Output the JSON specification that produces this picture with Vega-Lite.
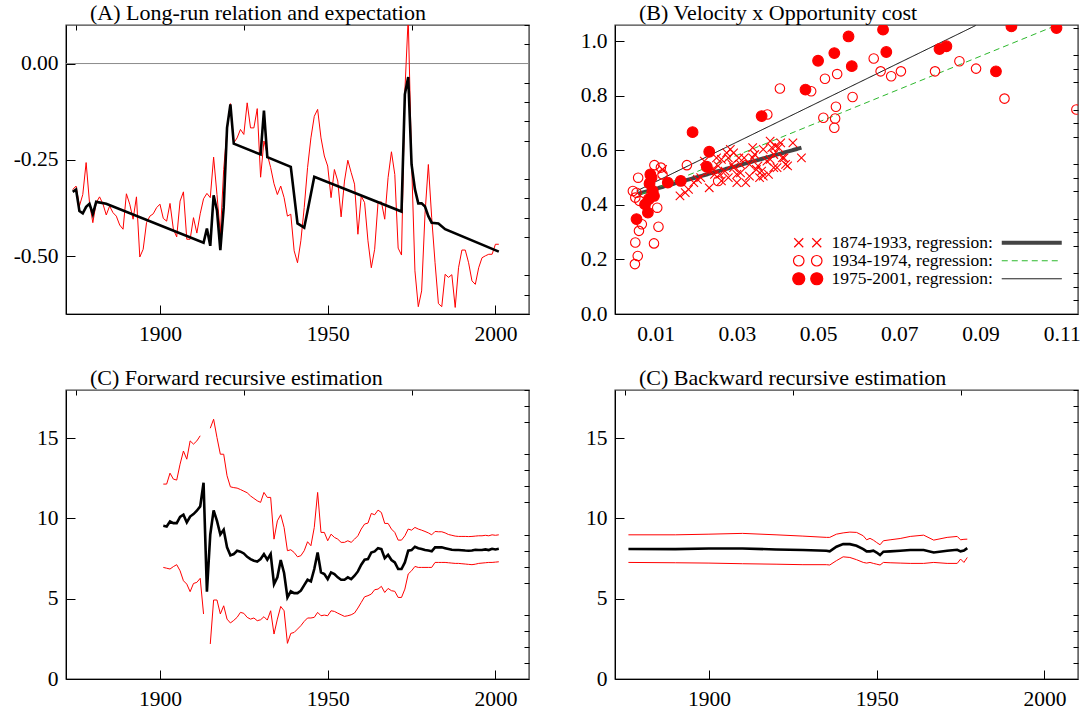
{
"$schema": "https://vega.github.io/schema/vega-lite/v6.json",
"background": "white",
"padding": {"left": 12, "top": 0, "right": 0, "bottom": 0},
"config": {
  "view": {"stroke": "#444444", "strokeWidth": 1.4},
  "axis": {"labelFont": "Liberation Serif", "labelFontSize": 21.5, "labelColor": "#000", "domainColor": "#000", "domainWidth": 1, "tickColor": "#000", "tickWidth": 1, "grid": false, "labelFlush": false, "labelOverlap": false, "labelBound": false},
  "legend": {"labelFont": "Liberation Serif", "labelColor": "#000", "labelLimit": 0},
  "title": {"font": "Liberation Serif", "fontSize": 22, "fontWeight": "normal", "color": "#000"}
},
"datasets": {
  "A_red": [
    {"year":1874,"v":-0.327},{"year":1875,"v":-0.318},{"year":1876,"v":-0.37},{"year":1877,"v":-0.34},{"year":1878,"v":-0.257},{"year":1879,"v":-0.361},{"year":1880,"v":-0.413},{"year":1881,"v":-0.361},{"year":1882,"v":-0.346},{"year":1883,"v":-0.364},{"year":1884,"v":-0.393},{"year":1885,"v":-0.37},{"year":1886,"v":-0.387},{"year":1887,"v":-0.396},{"year":1888,"v":-0.419},{"year":1889,"v":-0.43},{"year":1890,"v":-0.338},{"year":1891,"v":-0.365},{"year":1892,"v":-0.404},{"year":1893,"v":-0.346},{"year":1894,"v":-0.502},{"year":1895,"v":-0.482},{"year":1896,"v":-0.413},{"year":1897,"v":-0.396},{"year":1898,"v":-0.39},{"year":1899,"v":-0.374},{"year":1900,"v":-0.365},{"year":1901,"v":-0.402},{"year":1902,"v":-0.409},{"year":1903,"v":-0.363},{"year":1904,"v":-0.43},{"year":1905,"v":-0.45},{"year":1906,"v":-0.357},{"year":1907,"v":-0.333},{"year":1908,"v":-0.456},{"year":1909,"v":-0.456},{"year":1910,"v":-0.4},{"year":1911,"v":-0.44},{"year":1912,"v":-0.39},{"year":1913,"v":-0.351},{"year":1914,"v":-0.337},{"year":1915,"v":-0.348},{"year":1916,"v":-0.243},{"year":1917,"v":-0.34},{"year":1918,"v":-0.443},{"year":1919,"v":-0.275},{"year":1920,"v":-0.171},{"year":1921,"v":-0.104},{"year":1922,"v":-0.206},{"year":1923,"v":-0.193},{"year":1924,"v":-0.171},{"year":1925,"v":-0.184},{"year":1926,"v":-0.102},{"year":1927,"v":-0.167},{"year":1928,"v":-0.167},{"year":1929,"v":-0.117},{"year":1930,"v":-0.295},{"year":1931,"v":-0.201},{"year":1932,"v":-0.236},{"year":1933,"v":-0.27},{"year":1934,"v":-0.312},{"year":1935,"v":-0.34},{"year":1936,"v":-0.318},{"year":1937,"v":-0.348},{"year":1938,"v":-0.396},{"year":1939,"v":-0.391},{"year":1940,"v":-0.486},{"year":1941,"v":-0.517},{"year":1942,"v":-0.46},{"year":1943,"v":-0.374},{"year":1944,"v":-0.27},{"year":1945,"v":-0.193},{"year":1946,"v":-0.137},{"year":1947,"v":-0.119},{"year":1948,"v":-0.193},{"year":1949,"v":-0.24},{"year":1950,"v":-0.266},{"year":1951,"v":-0.348},{"year":1952,"v":-0.275},{"year":1953,"v":-0.305},{"year":1954,"v":-0.398},{"year":1955,"v":-0.305},{"year":1956,"v":-0.251},{"year":1957,"v":-0.283},{"year":1958,"v":-0.313},{"year":1959,"v":-0.443},{"year":1960,"v":-0.344},{"year":1961,"v":-0.361},{"year":1962,"v":-0.46},{"year":1963,"v":-0.53},{"year":1964,"v":-0.482},{"year":1965,"v":-0.361},{"year":1966,"v":-0.359},{"year":1967,"v":-0.404},{"year":1968,"v":-0.296},{"year":1969,"v":-0.229},{"year":1970,"v":-0.288},{"year":1971,"v":-0.479},{"year":1972,"v":-0.497},{"year":1973,"v":-0.072},{"year":1974,"v":0.12},{"year":1975,"v":-0.253},{"year":1976,"v":-0.538},{"year":1977,"v":-0.631},{"year":1978,"v":-0.59},{"year":1979,"v":-0.391},{"year":1980,"v":-0.262},{"year":1981,"v":-0.4},{"year":1982,"v":-0.517},{"year":1983,"v":-0.623},{"year":1984,"v":-0.631},{"year":1985,"v":-0.547},{"year":1986,"v":-0.555},{"year":1987,"v":-0.548},{"year":1988,"v":-0.633},{"year":1989,"v":-0.53},{"year":1990,"v":-0.484},{"year":1991,"v":-0.484},{"year":1992,"v":-0.517},{"year":1993,"v":-0.564},{"year":1994,"v":-0.573},{"year":1995,"v":-0.53},{"year":1996,"v":-0.504},{"year":1997,"v":-0.499},{"year":1998,"v":-0.495},{"year":1999,"v":-0.495},{"year":2000,"v":-0.469},{"year":2001,"v":-0.469}
  ],
  "A_black": [
    {"year":1874,"v":-0.333},{"year":1875,"v":-0.327},{"year":1876,"v":-0.383},{"year":1877,"v":-0.389},{"year":1878,"v":-0.372},{"year":1879,"v":-0.364},{"year":1880,"v":-0.391},{"year":1881,"v":-0.359},{"year":1884,"v":-0.364},{"year":1913,"v":-0.465},{"year":1914,"v":-0.428},{"year":1915,"v":-0.473},{"year":1916,"v":-0.342},{"year":1917,"v":-0.381},{"year":1918,"v":-0.484},{"year":1919,"v":-0.374},{"year":1920,"v":-0.167},{"year":1921,"v":-0.106},{"year":1922,"v":-0.208},{"year":1930,"v":-0.236},{"year":1931,"v":-0.122},{"year":1932,"v":-0.243},{"year":1939,"v":-0.268},{"year":1941,"v":-0.415},{"year":1943,"v":-0.426},{"year":1944,"v":-0.383},{"year":1946,"v":-0.294},{"year":1972,"v":-0.384},{"year":1973,"v":-0.08},{"year":1974,"v":-0.035},{"year":1975,"v":-0.262},{"year":1976,"v":-0.326},{"year":1977,"v":-0.363},{"year":1978,"v":-0.363},{"year":1979,"v":-0.371},{"year":1980,"v":-0.396},{"year":1981,"v":-0.413},{"year":1983,"v":-0.415},{"year":1985,"v":-0.43},{"year":2001,"v":-0.488}
  ],
  "B_pts": [
    {"period":"1874-1933","oc":0.016,"vel":0.433},{"period":"1874-1933","oc":0.0181,"vel":0.457},{"period":"1874-1933","oc":0.0203,"vel":0.494},{"period":"1874-1933","oc":0.0232,"vel":0.463},{"period":"1874-1933","oc":0.022,"vel":0.561},{"period":"1874-1933","oc":0.0245,"vel":0.512},{"period":"1874-1933","oc":0.0254,"vel":0.543},{"period":"1874-1933","oc":0.0262,"vel":0.567},{"period":"1874-1933","oc":0.0271,"vel":0.524},{"period":"1874-1933","oc":0.0279,"vel":0.5},{"period":"1874-1933","oc":0.0288,"vel":0.549},{"period":"1874-1933","oc":0.0292,"vel":0.591},{"period":"1874-1933","oc":0.03,"vel":0.512},{"period":"1874-1933","oc":0.03,"vel":0.482},{"period":"1874-1933","oc":0.0305,"vel":0.573},{"period":"1874-1933","oc":0.0292,"vel":0.537},{"period":"1874-1933","oc":0.0284,"vel":0.604},{"period":"1874-1933","oc":0.0331,"vel":0.549},{"period":"1874-1933","oc":0.0339,"vel":0.61},{"period":"1874-1933","oc":0.0344,"vel":0.585},{"period":"1874-1933","oc":0.0352,"vel":0.543},{"period":"1874-1933","oc":0.0361,"vel":0.524},{"period":"1874-1933","oc":0.0365,"vel":0.506},{"period":"1874-1933","oc":0.0378,"vel":0.512},{"period":"1874-1933","oc":0.0374,"vel":0.561},{"period":"1874-1933","oc":0.0382,"vel":0.634},{"period":"1874-1933","oc":0.0386,"vel":0.61},{"period":"1874-1933","oc":0.0391,"vel":0.585},{"period":"1874-1933","oc":0.0399,"vel":0.537},{"period":"1874-1933","oc":0.0403,"vel":0.61},{"period":"1874-1933","oc":0.0408,"vel":0.628},{"period":"1874-1933","oc":0.0416,"vel":0.573},{"period":"1874-1933","oc":0.042,"vel":0.549},{"period":"1874-1933","oc":0.0425,"vel":0.543},{"period":"1874-1933","oc":0.0438,"vel":0.628},{"period":"1874-1933","oc":0.0459,"vel":0.573},{"period":"1874-1933","oc":0.0365,"vel":0.604},{"period":"1874-1933","oc":0.0322,"vel":0.482},{"period":"1874-1933","oc":0.0262,"vel":0.488},{"period":"1874-1933","oc":0.0241,"vel":0.53},{"period":"1874-1933","oc":0.025,"vel":0.573},{"period":"1874-1933","oc":0.0275,"vel":0.591},{"period":"1874-1933","oc":0.0309,"vel":0.518},{"period":"1874-1933","oc":0.0331,"vel":0.506},{"period":"1874-1933","oc":0.0348,"vel":0.53},{"period":"1874-1933","oc":0.0356,"vel":0.5},{"period":"1874-1933","oc":0.0382,"vel":0.567},{"period":"1874-1933","oc":0.0395,"vel":0.616},{"period":"1874-1933","oc":0.0412,"vel":0.573},{"period":"1874-1933","oc":0.0391,"vel":0.537},{"period":"1874-1933","oc":0.0279,"vel":0.573},{"period":"1874-1933","oc":0.0258,"vel":0.512},{"period":"1874-1933","oc":0.0232,"vel":0.524},{"period":"1874-1933","oc":0.0211,"vel":0.5},{"period":"1874-1933","oc":0.0339,"vel":0.573},{"period":"1874-1933","oc":0.0318,"vel":0.573},{"period":"1874-1933","oc":0.0117,"vel":0.53},{"period":"1874-1933","oc":0.0173,"vel":0.445},{"period":"1874-1933","oc":0.0194,"vel":0.482},{"period":"1874-1933","oc":0.0309,"vel":0.549},
    {"period":"1934-1974","oc":0.1136,"vel":0.75},{"period":"1934-1974","oc":0.0959,"vel":0.79},{"period":"1934-1974","oc":0.0889,"vel":0.9},{"period":"1934-1974","oc":0.0848,"vel":0.927},{"period":"1934-1974","oc":0.0788,"vel":0.89},{"period":"1934-1974","oc":0.0637,"vel":0.937},{"period":"1934-1974","oc":0.0654,"vel":0.89},{"period":"1934-1974","oc":0.068,"vel":0.872},{"period":"1934-1974","oc":0.0704,"vel":0.89},{"period":"1934-1974","oc":0.0585,"vel":0.796},{"period":"1934-1974","oc":0.0547,"vel":0.88},{"period":"1934-1974","oc":0.0517,"vel":0.863},{"period":"1934-1974","oc":0.0544,"vel":0.76},{"period":"1934-1974","oc":0.0513,"vel":0.72},{"period":"1934-1974","oc":0.0542,"vel":0.717},{"period":"1934-1974","oc":0.054,"vel":0.683},{"period":"1934-1974","oc":0.0483,"vel":0.817},{"period":"1934-1974","oc":0.0406,"vel":0.827},{"period":"1934-1974","oc":0.0375,"vel":0.732},{"period":"1934-1974","oc":0.0177,"vel":0.546},{"period":"1934-1974","oc":0.0097,"vel":0.546},{"period":"1934-1974","oc":0.0113,"vel":0.537},{"period":"1934-1974","oc":0.0057,"vel":0.5},{"period":"1934-1974","oc":0.0044,"vel":0.451},{"period":"1934-1974","oc":0.005,"vel":0.427},{"period":"1934-1974","oc":0.0066,"vel":0.329},{"period":"1934-1974","oc":0.0059,"vel":0.305},{"period":"1934-1974","oc":0.005,"vel":0.262},{"period":"1934-1974","oc":0.0056,"vel":0.213},{"period":"1934-1974","oc":0.0049,"vel":0.183},{"period":"1934-1974","oc":0.0096,"vel":0.259},{"period":"1934-1974","oc":0.0107,"vel":0.32},{"period":"1934-1974","oc":0.0104,"vel":0.39},{"period":"1934-1974","oc":0.0254,"vel":0.488},{"period":"1934-1974","oc":0.009,"vel":0.445},{"period":"1934-1974","oc":0.0053,"vel":0.445},{"period":"1934-1974","oc":0.0085,"vel":0.482},{"period":"1934-1974","oc":0.0117,"vel":0.512},{"period":"1934-1974","oc":0.006,"vel":0.415},
    {"period":"1975-2001","oc":0.066,"vel":1.043},{"period":"1975-2001","oc":0.0976,"vel":1.055},{"period":"1975-2001","oc":0.1087,"vel":1.049},{"period":"1975-2001","oc":0.0575,"vel":1.018},{"period":"1975-2001","oc":0.054,"vel":0.957},{"period":"1975-2001","oc":0.05,"vel":0.929},{"period":"1975-2001","oc":0.0583,"vel":0.909},{"period":"1975-2001","oc":0.0668,"vel":0.961},{"period":"1975-2001","oc":0.0799,"vel":0.972},{"period":"1975-2001","oc":0.0816,"vel":0.982},{"period":"1975-2001","oc":0.0938,"vel":0.89},{"period":"1975-2001","oc":0.0469,"vel":0.823},{"period":"1975-2001","oc":0.0361,"vel":0.726},{"period":"1975-2001","oc":0.0191,"vel":0.667},{"period":"1975-2001","oc":0.0232,"vel":0.595},{"period":"1975-2001","oc":0.0226,"vel":0.54},{"period":"1975-2001","oc":0.0162,"vel":0.488},{"period":"1975-2001","oc":0.013,"vel":0.482},{"period":"1975-2001","oc":0.009,"vel":0.5},{"period":"1975-2001","oc":0.0085,"vel":0.478},{"period":"1975-2001","oc":0.0096,"vel":0.433},{"period":"1975-2001","oc":0.0083,"vel":0.421},{"period":"1975-2001","oc":0.0074,"vel":0.402},{"period":"1975-2001","oc":0.0081,"vel":0.372},{"period":"1975-2001","oc":0.0053,"vel":0.348},{"period":"1975-2001","oc":0.0093,"vel":0.451},{"period":"1975-2001","oc":0.0087,"vel":0.512}
  ],
  "B_reg": [
    {"period":"1874-1933","oc":0.0057,"vel":0.441},{"period":"1874-1933","oc":0.0459,"vel":0.61},
    {"period":"1934-1974","oc":0.0066,"vel":0.44},{"period":"1934-1974","oc":0.1087,"vel":1.059},
    {"period":"1975-2001","oc":0.0053,"vel":0.451},{"period":"1975-2001","oc":0.0888,"vel":1.058}
  ],
  "C_fwd": [
    {"year":1901,"est":9.54,"hi":12.14,"lo":6.95},{"year":1902,"est":9.5,"hi":12.14,"lo":6.9},{"year":1903,"est":9.81,"hi":12.82,"lo":6.85},{"year":1904,"est":9.71,"hi":12.45,"lo":7.0},{"year":1905,"est":9.71,"hi":12.39,"lo":7.12},{"year":1906,"est":10.1,"hi":13.38,"lo":6.74},{"year":1907,"est":10.23,"hi":14.2,"lo":6.12},{"year":1908,"est":9.75,"hi":13.69,"lo":5.91},{"year":1909,"est":10.12,"hi":14.83,"lo":5.44},{"year":1910,"est":10.27,"hi":14.63,"lo":5.95},{"year":1911,"est":10.48,"hi":14.83,"lo":6.02},{"year":1912,"est":10.75,"hi":15.15,"lo":6.27},{"year":1913,"est":12.22,"hi":null,"lo":4.05},{"year":1914,"est":5.44,"hi":null,"lo":null},{"year":1915,"est":9.0,"hi":15.62,"lo":2.18},{"year":1916,"est":10.5,"hi":16.18,"lo":4.92},{"year":1917,"est":9.85,"hi":15.04,"lo":4.92},{"year":1918,"est":9.0,"hi":14.0,"lo":4.05},{"year":1919,"est":9.3,"hi":14.0,"lo":4.56},{"year":1920,"est":8.2,"hi":12.66,"lo":3.73},
    {"year":1921,"est":7.7,"hi":11.97,"lo":3.49},{"year":1922,"est":7.78,"hi":11.92,"lo":3.65},{"year":1923,"est":7.99,"hi":11.89,"lo":3.84},{"year":1924,"est":7.93,"hi":11.8,"lo":4.15},{"year":1925,"est":7.82,"hi":11.7,"lo":4.09},{"year":1926,"est":7.61,"hi":11.6,"lo":3.84},{"year":1927,"est":7.47,"hi":11.4,"lo":3.73},{"year":1928,"est":7.37,"hi":11.25,"lo":3.8},{"year":1929,"est":7.32,"hi":11.1,"lo":3.63},{"year":1930,"est":7.47,"hi":11.0,"lo":3.69},{"year":1931,"est":7.78,"hi":11.62,"lo":3.88},{"year":1932,"est":7.43,"hi":11.31,"lo":3.67},{"year":1933,"est":7.78,"hi":11.31,"lo":4.25},{"year":1934,"est":5.91,"hi":8.71,"lo":2.8},{"year":1935,"est":6.33,"hi":9.85,"lo":3.73},{"year":1936,"est":7.41,"hi":10.23,"lo":4.52},{"year":1937,"est":6.6,"hi":9.44,"lo":4.25},{"year":1938,"est":5.08,"hi":7.99,"lo":2.22},{"year":1939,"est":5.46,"hi":8.05,"lo":2.84},{"year":1940,"est":5.35,"hi":7.88,"lo":2.9},
    {"year":1941,"est":5.35,"hi":7.61,"lo":3.11},{"year":1942,"est":5.5,"hi":7.68,"lo":3.32},{"year":1943,"est":5.85,"hi":7.99,"lo":3.59},{"year":1944,"est":6.18,"hi":8.55,"lo":3.8},{"year":1945,"est":6.08,"hi":8.3,"lo":3.8},{"year":1946,"est":6.85,"hi":9.44,"lo":3.84},{"year":1947,"est":7.88,"hi":11.62,"lo":4.15},{"year":1948,"est":6.64,"hi":9.13,"lo":3.94},{"year":1949,"est":6.54,"hi":9.13,"lo":3.98},{"year":1950,"est":6.22,"hi":8.61,"lo":3.94},{"year":1951,"est":6.64,"hi":9.02,"lo":4.25},{"year":1952,"est":6.54,"hi":8.82,"lo":4.21},{"year":1953,"est":6.33,"hi":8.71,"lo":4.1},{"year":1954,"est":6.18,"hi":8.51,"lo":4.0},{"year":1955,"est":6.18,"hi":8.51,"lo":3.9},{"year":1956,"est":6.33,"hi":8.61,"lo":3.94},{"year":1957,"est":6.22,"hi":8.51,"lo":4.0},{"year":1958,"est":6.43,"hi":8.71,"lo":4.11},{"year":1959,"est":6.7,"hi":8.92,"lo":4.42},{"year":1960,"est":7.12,"hi":9.34,"lo":4.77},
    {"year":1961,"est":7.43,"hi":9.65,"lo":5.12},{"year":1962,"est":7.47,"hi":9.71,"lo":5.19},{"year":1963,"est":7.88,"hi":10.31,"lo":5.29},{"year":1964,"est":7.95,"hi":10.23,"lo":5.56},{"year":1965,"est":8.15,"hi":10.52,"lo":5.6},{"year":1966,"est":8.09,"hi":10.37,"lo":5.77},{"year":1967,"est":7.53,"hi":9.69,"lo":5.39},{"year":1968,"est":7.74,"hi":9.69,"lo":5.64},{"year":1969,"est":7.41,"hi":9.34,"lo":5.5},{"year":1970,"est":7.26,"hi":9.13,"lo":5.46},{"year":1971,"est":6.85,"hi":8.65,"lo":5.08},{"year":1972,"est":6.85,"hi":8.65,"lo":5.08},{"year":1973,"est":7.26,"hi":8.92,"lo":5.6},{"year":1974,"est":7.99,"hi":9.34,"lo":6.54},{"year":1975,"est":8.03,"hi":9.27,"lo":6.74},{"year":1976,"est":8.24,"hi":9.44,"lo":7.01},{"year":1977,"est":8.15,"hi":9.34,"lo":6.95},{"year":1978,"est":8.1,"hi":9.27,"lo":6.95},{"year":1979,"est":8.03,"hi":9.19,"lo":6.95},{"year":1980,"est":8.0,"hi":9.1,"lo":6.95},
    {"year":1981,"est":7.95,"hi":8.98,"lo":6.95},{"year":1982,"est":8.2,"hi":9.19,"lo":7.26},{"year":1983,"est":8.2,"hi":9.17,"lo":7.26},{"year":1984,"est":8.2,"hi":9.17,"lo":7.26},{"year":1985,"est":8.15,"hi":9.1,"lo":7.26},{"year":1986,"est":8.1,"hi":9.0,"lo":7.24},{"year":1987,"est":8.05,"hi":8.95,"lo":7.22},{"year":1988,"est":8.03,"hi":8.9,"lo":7.2},{"year":1989,"est":8.03,"hi":8.88,"lo":7.2},{"year":1990,"est":8.02,"hi":8.88,"lo":7.18},{"year":1991,"est":8.0,"hi":8.88,"lo":7.16},{"year":1992,"est":7.99,"hi":8.87,"lo":7.14},{"year":1993,"est":8.0,"hi":8.88,"lo":7.12},{"year":1994,"est":8.05,"hi":8.9,"lo":7.15},{"year":1995,"est":8.03,"hi":8.92,"lo":7.2},{"year":1996,"est":8.03,"hi":8.92,"lo":7.22},{"year":1997,"est":8.07,"hi":8.95,"lo":7.24},{"year":1998,"est":8.03,"hi":8.92,"lo":7.26},{"year":1999,"est":8.11,"hi":8.98,"lo":7.26},{"year":2000,"est":8.07,"hi":8.95,"lo":7.28},{"year":2001,"est":8.11,"hi":8.98,"lo":7.3}
  ],
  "D_bwd": [
    {"year":1876,"est":8.1,"hi":8.98,"lo":7.26},{"year":1890,"est":8.09,"hi":8.98,"lo":7.24},{"year":1900,"est":8.13,"hi":9.02,"lo":7.22},{"year":1910,"est":8.13,"hi":9.07,"lo":7.18},{"year":1920,"est":8.07,"hi":8.98,"lo":7.15},{"year":1928,"est":8.03,"hi":8.9,"lo":7.12},{"year":1935,"est":7.99,"hi":8.82,"lo":7.12},{"year":1936,"est":7.95,"hi":8.82,"lo":7.1},{"year":1938,"est":8.24,"hi":9.02,"lo":7.37},{"year":1940,"est":8.4,"hi":9.1,"lo":7.61},{"year":1942,"est":8.4,"hi":9.15,"lo":7.57},{"year":1944,"est":8.3,"hi":9.13,"lo":7.43},{"year":1946,"est":8.09,"hi":8.92,"lo":7.26},{"year":1947,"est":7.95,"hi":8.67,"lo":7.22},{"year":1948,"est":7.95,"hi":8.76,"lo":7.26},{"year":1949,"est":7.99,"hi":8.65,"lo":7.2},{"year":1950,"est":7.88,"hi":8.5,"lo":7.15},{"year":1951,"est":7.72,"hi":8.36,"lo":7.1},{"year":1952,"est":7.93,"hi":8.61,"lo":7.26},{"year":1954,"est":7.95,"hi":8.67,"lo":7.24},{"year":1957,"est":7.99,"hi":8.75,"lo":7.22},{"year":1960,"est":8.03,"hi":8.88,"lo":7.2},{"year":1964,"est":8.03,"hi":8.96,"lo":7.2},{"year":1967,"est":7.88,"hi":8.65,"lo":7.26},{"year":1971,"est":7.99,"hi":8.82,"lo":7.2},{"year":1974,"est":8.05,"hi":8.88,"lo":7.2},{"year":1975,"est":7.95,"hi":8.67,"lo":7.47},{"year":1976,"est":8.0,"hi":8.7,"lo":7.26},{"year":1977,"est":8.15,"hi":8.71,"lo":7.57}
  ]
},
"columns": 2,
"spacing": {"row": 76, "column": 86},
"bounds": "flush",
"concat": [
  {
    "width": 463, "height": 289,
    "title": {"text": "(A) Long-run relation and expectation", "anchor": "start", "frame": "group", "dx": 24, "offset": -17, "baseline": "alphabetic"},
    "layer": [
      {"data": {"values": [{}]}, "mark": {"type": "rule", "color": "#8c8c8c", "strokeWidth": 1},
       "encoding": {"y": {"datum": 0, "type": "quantitative", "scale": {"domain": [-0.65, 0.1], "nice": false, "zero": false}, "axis": null}}},
      {"data": {"name": "A_red"}, "mark": {"type": "line", "color": "#ff0000", "strokeWidth": 1, "clip": true},
       "encoding": {
         "x": {"field": "year", "type": "quantitative", "scale": {"domain": [1872, 2010], "nice": false, "zero": false},
               "axis": {"values": [1900, 1950, 2000], "format": "d", "tickSize": -9, "labelPadding": 18, "title": null}},
         "y": {"field": "v", "type": "quantitative", "scale": {"domain": [-0.65, 0.1], "nice": false, "zero": false},
               "axis": {"values": [0, -0.25, -0.5], "labelExpr": "datum.value < 0 ? '-' + format(-datum.value, '.2f') : format(datum.value, '.2f')", "tickSize": -9, "labelPadding": 17, "title": null}}}},
      {"data": {"name": "A_black"}, "mark": {"type": "line", "color": "#000000", "strokeWidth": 2.6, "clip": true},
       "encoding": {
         "x": {"field": "year", "type": "quantitative", "scale": {"domain": [1872, 2010], "nice": false, "zero": false},
               "axis": {"values": [1875, 1925, 1975], "labels": false, "tickSize": -5, "domain": false, "title": null}},
         "y": {"field": "v", "type": "quantitative", "scale": {"domain": [-0.65, 0.1], "nice": false, "zero": false},
               "axis": {"values": [0.1, 0.05, -0.05, -0.1, -0.15, -0.2, -0.3, -0.35, -0.4, -0.45, -0.55, -0.6, -0.65], "labels": false, "tickSize": -5, "domain": false, "title": null}}}}
    ],
    "resolve": {"axis": {"x": "independent", "y": "independent"}}
  },
  {
    "width": 463, "height": 289,
    "title": {"text": "(B) Velocity x Opportunity cost", "anchor": "start", "frame": "group", "dx": 24, "offset": -17, "baseline": "alphabetic"},
    "layer": [
      {"data": {"name": "B_reg"}, "mark": {"type": "line", "clip": true},
       "encoding": {
         "x": {"field": "oc", "type": "quantitative", "scale": {"domain": [0, 0.114], "nice": false, "zero": false},
               "axis": {"values": [0.01, 0.03, 0.05, 0.07, 0.09, 0.11], "format": ".2f", "ticks": false, "labelPadding": 9, "title": null}},
         "y": {"field": "vel", "type": "quantitative", "scale": {"domain": [0, 1.06], "nice": false, "zero": false},
               "axis": {"values": [0, 0.2, 0.4, 0.6, 0.8, 1.0], "format": ".1f", "tickSize": -9, "labelPadding": 17, "title": null}},
         "color": {"field": "period", "type": "nominal", "scale": {"range": ["#444444", "#2db82d", "#000000"]},
                   "legend": {"orient": "none", "legendX": 957, "legendY": 209, "title": null, "labelExpr": "' '", "labelFontSize": 17.5, "labelOffset": -30, "symbolType": "M-6,0L6,0", "symbolSize": 100, "rowPadding": -1.5, "padding": 0}},
         "strokeDash": {"field": "period", "type": "nominal", "scale": {"range": [[1, 0], [6, 4], [1, 0]]},
                   "legend": {"orient": "none", "legendX": 957, "legendY": 209, "title": null, "labelExpr": "' '", "labelFontSize": 17.5, "labelOffset": -30, "symbolType": "M-6,0L6,0", "symbolSize": 100, "rowPadding": -1.5, "padding": 0}},
         "strokeWidth": {"field": "period", "type": "nominal", "scale": {"type": "ordinal", "range": [4, 1, 1]},
                   "legend": {"orient": "none", "legendX": 957, "legendY": 209, "title": null, "labelExpr": "' '", "labelFontSize": 17.5, "labelOffset": -30, "symbolType": "M-6,0L6,0", "symbolSize": 100, "rowPadding": -1.5, "padding": 0}}}},
      {"data": {"name": "B_pts"}, "mark": {"type": "point", "filled": true, "fill": "#ff0000", "stroke": "#ff0000", "strokeWidth": 1.1, "opacity": 1, "clip": true},
       "encoding": {
         "x": {"field": "oc", "type": "quantitative", "scale": {"domain": [0, 0.114], "nice": false, "zero": false}, "axis": null},
         "y": {"field": "vel", "type": "quantitative", "scale": {"domain": [0, 1.06], "nice": false, "zero": false},
               "axis": {"values": [0.05, 0.1, 0.15, 0.25, 0.3, 0.35, 0.45, 0.5, 0.55, 0.65, 0.7, 0.75, 0.85, 0.9, 0.95, 1.05], "labels": false, "tickSize": -5, "domain": false, "title": null}},
         "shape": {"condition": {"test": "datum.period === '1874-1933'", "value": "M-1,-1L1,1M-1,1L1,-1"}, "value": "circle"},
         "fillOpacity": {"condition": {"test": "datum.period === '1975-2001'", "value": 1}, "value": 0},
         "size": {"condition": [{"test": "datum.period === '1975-2001'", "value": 115}, {"test": "datum.period === '1934-1974'", "value": 90}], "value": 72}}},
      {"data": {"name": "B_pts"}, "transform": [{"filter": "false"}],
       "mark": {"type": "point", "filled": true, "stroke": "#ff0000", "strokeWidth": 1.2, "opacity": 1},
       "encoding": {
         "stroke": {"value": "#ff0000"},
         "shape": {"field": "period", "type": "nominal",
                   "scale": {"domain": ["1874-1933", "1934-1974", "1975-2001"], "range": ["M-2.7,-0.9L-0.9,0.9M-2.7,0.9L-0.9,-0.9M0.9,-0.9L2.7,0.9M0.9,0.9L2.7,-0.9", "M-2.85,0A1.05,1.05,0,1,0,-0.75,0A1.05,1.05,0,1,0,-2.85,0ZM0.75,0A1.05,1.05,0,1,0,2.85,0A1.05,1.05,0,1,0,0.75,0Z", "M-3,0A1.2,1.2,0,1,0,-0.6,0A1.2,1.2,0,1,0,-3,0ZM0.6,0A1.2,1.2,0,1,0,3,0A1.2,1.2,0,1,0,0.6,0Z"]},
                   "legend": {"orient": "none", "legendX": 733, "legendY": 209, "title": null, "labelExpr": "datum.label + ', regression:'", "labelFontSize": 17.5, "labelLimit": 0, "symbolSize": 100, "symbolStrokeWidth": 1.2, "rowPadding": -1.5, "labelOffset": 15, "padding": 0}},
         "fill": {"field": "period", "type": "nominal",
                  "scale": {"domain": ["1874-1933", "1934-1974", "1975-2001"], "range": ["transparent", "transparent", "#ff0000"]},
                  "legend": {"orient": "none", "legendX": 733, "legendY": 209, "title": null, "labelExpr": "datum.label + ', regression:'", "labelFontSize": 17.5, "labelLimit": 0, "symbolSize": 100, "symbolStrokeWidth": 1.2, "rowPadding": -1.5, "labelOffset": 15, "padding": 0}}}}
    ],
    "resolve": {"axis": {"x": "independent", "y": "independent"}}
  },
  {
    "width": 463, "height": 289,
    "title": {"text": "(C) Forward recursive estimation", "anchor": "start", "frame": "group", "dx": 24, "offset": -17, "baseline": "alphabetic"},
    "data": {"name": "C_fwd"},
    "layer": [
      {"mark": {"type": "line", "color": "#ff0000", "strokeWidth": 1, "clip": true, "invalid": "break-paths-filter-domains"},
       "encoding": {
         "x": {"field": "year", "type": "quantitative", "scale": {"domain": [1872, 2010], "nice": false, "zero": false},
               "axis": {"values": [1900, 1950, 2000], "format": "d", "tickSize": -9, "labelPadding": 18, "title": null}},
         "y": {"field": "hi", "type": "quantitative", "scale": {"domain": [0, 18], "nice": false, "zero": false},
               "axis": {"values": [0, 5, 10, 15], "format": "d", "tickSize": -9, "labelPadding": 17, "title": null}}}},
      {"mark": {"type": "line", "color": "#ff0000", "strokeWidth": 1, "clip": true, "invalid": "break-paths-filter-domains"},
       "encoding": {
         "x": {"field": "year", "type": "quantitative", "scale": {"domain": [1872, 2010], "nice": false, "zero": false},
               "axis": {"values": [1875, 1925, 1975], "labels": false, "tickSize": -5, "domain": false, "title": null}},
         "y": {"field": "lo", "type": "quantitative", "scale": {"domain": [0, 18], "nice": false, "zero": false},
               "axis": {"values": [1, 2, 3, 4, 6, 7, 8, 9, 11, 12, 13, 14, 16, 17, 18], "labels": false, "tickSize": -5, "domain": false, "title": null}}}},
      {"mark": {"type": "line", "color": "#000000", "strokeWidth": 2.6, "clip": true},
       "encoding": {
         "x": {"field": "year", "type": "quantitative", "scale": {"domain": [1872, 2010], "nice": false, "zero": false}, "axis": null},
         "y": {"field": "est", "type": "quantitative", "scale": {"domain": [0, 18], "nice": false, "zero": false}, "axis": null}}}
    ],
    "resolve": {"axis": {"x": "independent", "y": "independent"}}
  },
  {
    "width": 463, "height": 289,
    "title": {"text": "(C) Backward recursive estimation", "anchor": "start", "frame": "group", "dx": 24, "offset": -17, "baseline": "alphabetic"},
    "data": {"name": "D_bwd"},
    "layer": [
      {"mark": {"type": "line", "color": "#ff0000", "strokeWidth": 1, "clip": true},
       "encoding": {
         "x": {"field": "year", "type": "quantitative", "scale": {"domain": [1872, 2010], "nice": false, "zero": false},
               "axis": {"values": [1900, 1950, 2000], "format": "d", "tickSize": -9, "labelPadding": 18, "title": null}},
         "y": {"field": "hi", "type": "quantitative", "scale": {"domain": [0, 18], "nice": false, "zero": false},
               "axis": {"values": [0, 5, 10, 15], "format": "d", "tickSize": -9, "labelPadding": 17, "title": null}}}},
      {"mark": {"type": "line", "color": "#ff0000", "strokeWidth": 1, "clip": true},
       "encoding": {
         "x": {"field": "year", "type": "quantitative", "scale": {"domain": [1872, 2010], "nice": false, "zero": false},
               "axis": {"values": [1875, 1925, 1975], "labels": false, "tickSize": -5, "domain": false, "title": null}},
         "y": {"field": "lo", "type": "quantitative", "scale": {"domain": [0, 18], "nice": false, "zero": false},
               "axis": {"values": [1, 2, 3, 4, 6, 7, 8, 9, 11, 12, 13, 14, 16, 17, 18], "labels": false, "tickSize": -5, "domain": false, "title": null}}}},
      {"mark": {"type": "line", "color": "#000000", "strokeWidth": 2.6, "clip": true},
       "encoding": {
         "x": {"field": "year", "type": "quantitative", "scale": {"domain": [1872, 2010], "nice": false, "zero": false}, "axis": null},
         "y": {"field": "est", "type": "quantitative", "scale": {"domain": [0, 18], "nice": false, "zero": false}, "axis": null}}}
    ],
    "resolve": {"axis": {"x": "independent", "y": "independent"}}
  }
]
}
